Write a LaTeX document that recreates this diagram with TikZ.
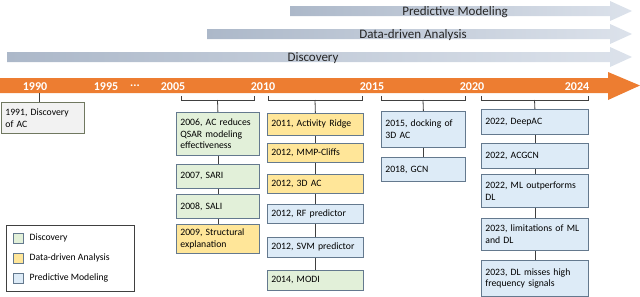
\documentclass[tikz,border=0pt]{standalone}
\usepackage{fontspec}
\setmainfont{Carlito}
\usepackage{tikz}
\usetikzlibrary{positioning,calc}
\usepackage{xcolor}
\definecolor{tlorange}{RGB}{237,125,49}
\definecolor{phaseleft}{RGB}{172,184,201}
\definecolor{phaseright}{RGB}{220,226,235}
\definecolor{discgreen}{RGB}{226,240,217}
\definecolor{datayellow}{RGB}{255,230,153}
\definecolor{predblue}{RGB}{221,235,247}
\definecolor{firstgrey}{RGB}{242,242,242}
\definecolor{boxline}{RGB}{100,121,142}
\definecolor{firstline}{RGB}{112,120,96}
\definecolor{linkgrey}{RGB}{64,64,64}
\tikzset{
  evbox/.style={draw=boxline,line width=0.8pt,fill=#1,anchor=north west,align=left,inner xsep=4pt,inner ysep=0pt,font=\fontsize{9.7}{11.6}\selectfont},
  phase/.style={left color=phaseleft,right color=phaseright,draw=none},
  phasetext/.style={text=black!85,font=\fontsize{13}{14}\selectfont},
  yearlbl/.style={text=white,font=\fontsize{12}{13}\selectfont\bfseries},
  swatch/.style={draw=boxline,line width=0.8pt,fill=#1,minimum width=10pt,minimum height=10pt,inner sep=0pt},
  legtext/.style={font=\fontsize{9.7}{12}\selectfont,inner sep=2pt},
}

\begin{document}
\begin{tikzpicture}[
        x=1pt,y=-1pt,
        link/.style={draw=linkgrey,line width=0.8pt},
      ]
        \useasboundingbox (0,0) rectangle (640,297);

        \path[phase] (290,6) -- (610,6) -- (610,1) -- (632,11) -- (610,21) -- (610,16) -- (290,16) -- cycle;
        \node[phasetext] (pPred) at (455,12) {Predictive Modeling};
        \path[phase] (207,29) -- (610,29) -- (610,24) -- (632,34) -- (610,44) -- (610,39) -- (207,39) -- cycle;
        \node[phasetext] (pData) at (413,35) {Data-driven Analysis};
        \path[phase] (7,52) -- (610,52) -- (610,47) -- (632,57) -- (610,67) -- (610,62) -- (7,62) -- cycle;
        \node[phasetext] (pDisc) at (313,58) {Discovery};

        \fill[tlorange] (0,78) -- (608,78) -- (608,72) -- (640,85.5) -- (608,100) -- (608,93) -- (0,93) -- cycle;
        \node[yearlbl] (y1990) at (35,87) {1990};
        \node[yearlbl] (y1995) at (106,87) {1995};
        \node[yearlbl] (ydots) at (135,87) {\raisebox{0.3em}{...}};
        \node[yearlbl] (y2005) at (173,87) {2005};
        \node[yearlbl] (y2010) at (263,87) {2010};
        \node[yearlbl] (y2015) at (372,87) {2015};
        \node[yearlbl] (y2020) at (472,87) {2020};
        \node[yearlbl] (y2024) at (577,87) {2024};

        \coordinate (t1990) at (39,93);
        \node[evbox=firstgrey,draw=firstline,text width=75pt,minimum height=31pt] (e1991) at (1,102)
          {1991, Discovery\\of AC};
        \draw[link] (t1990) -- (t1990 |- e1991.north);

        \draw[link] (181,96) -- (181,100) -- (254,100) -- (254,96);
        \coordinate (br1) at (217.5,100);
        \node[evbox=discgreen,text width=75pt,minimum height=43pt] (e2006) at (176,112)
          {2006, AC reduces\\QSAR modeling\\effectiveness};
        \node[evbox=discgreen,text width=75pt,minimum height=24pt] (e2007) at (176,164) {2007, SARI};
        \node[evbox=discgreen,text width=75pt,minimum height=24pt] (e2008) at (176,194) {2008, SALI};
        \node[evbox=datayellow,text width=75pt,minimum height=29pt] (e2009) at (176,224)
          {2009, Structural\\explanation};
        \draw[link] (br1) -- (e2006.north);
        \draw[link] (e2006.south) -- (e2007.north);
        \draw[link] (e2007.south) -- (e2008.north);
        \draw[link] (e2008.south) -- (e2009.north);

        \draw[link] (268,96) -- (268,100) -- (362,100) -- (362,96);
        \coordinate (br2) at (315,100);
        \node[evbox=datayellow,text width=88pt,minimum height=22pt] (e2011) at (267,113) {2011, Activity Ridge};
        \node[evbox=datayellow,text width=88pt,minimum height=19pt] (e2012a) at (267,143) {2012, MMP-Cliffs};
        \node[evbox=datayellow,text width=88pt,minimum height=19pt] (e2012b) at (267,174) {2012, 3D AC};
        \node[evbox=predblue,text width=88pt,minimum height=19pt] (e2012c) at (267,204) {2012, RF predictor};
        \node[evbox=predblue,text width=88pt,minimum height=20pt] (e2012d) at (267,237) {2012, SVM predictor};
        \node[evbox=discgreen,text width=88pt,minimum height=20pt] (e2014) at (267,270) {2014, MODI};
        \draw[link] (br2) -- (e2011.north);
        \draw[link] (e2011.south) -- (e2012a.north);
        \draw[link] (e2012a.south) -- (e2012b.north);
        \draw[link] (e2012b.south) -- (e2012c.north);
        \draw[link] (e2012c.south) -- (e2012d.north);
        \draw[link] (e2012d.south) -- (e2014.north);

        \draw[link] (381,96) -- (381,100) -- (465,100) -- (465,96);
        \coordinate (br3) at (423,100);
        \node[evbox=predblue,text width=76pt,minimum height=36pt] (e2015) at (381,111)
          {2015, docking of\\3D AC};
        \node[evbox=predblue,text width=76pt,minimum height=24pt] (e2018) at (381,157) {2018, GCN};
        \draw[link] (br3) -- (e2015.north);
        \draw[link] (e2015.south) -- (e2018.north);

        \draw[link] (481,96) -- (481,100) -- (588,100) -- (588,96);
        \coordinate (br4) at (534.5,100);
        \node[evbox=predblue,text width=99pt,minimum height=25pt] (e2022a) at (481,109) {2022, DeepAC};
        \node[evbox=predblue,text width=99pt,minimum height=25pt] (e2022b) at (481,143) {2022, ACGCN};
        \node[evbox=predblue,text width=99pt,minimum height=33pt] (e2022c) at (481,174)
          {2022, ML outperforms\\DL};
        \node[evbox=predblue,text width=99pt,minimum height=32pt] (e2023a) at (481,218)
          {2023, limitations of ML\\and DL};
        \node[evbox=predblue,text width=99pt,minimum height=36pt] (e2023b) at (481,260)
          {2023, DL misses high\\frequency signals};
        \draw[link] (br4) -- (e2022a.north);
        \draw[link] (e2022a.south) -- (e2022b.north);
        \draw[link] (e2022b.south) -- (e2022c.north);
        \draw[link] (e2022c.south) -- (e2023a.north);
        \draw[link] (e2023a.south) -- (e2023b.north);

        \node[draw=linkgrey,line width=0.8pt,anchor=north west,minimum width=128pt,minimum height=66pt] (legend) at (6,225) {};
        \node[swatch=discgreen] (swDisc) at (18,238) {};
        \node[swatch=datayellow] (swData) at (18,258) {};
        \node[swatch=predblue] (swPred) at (18,278) {};
        \node[legtext,right=4pt of swDisc] (lDisc) {Discovery};
        \node[legtext,right=4pt of swData] (lData) {Data-driven Analysis};
        \node[legtext,right=4pt of swPred] (lPred) {Predictive Modeling};
      \end{tikzpicture}
\end{document}
